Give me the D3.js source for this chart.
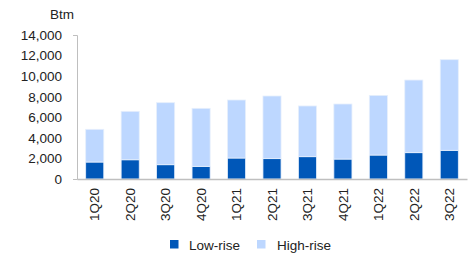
<!DOCTYPE html>
<html><head><meta charset="utf-8">
<script src="https://cdn.jsdelivr.net/npm/d3@7"></script>
<style>body{margin:0;background:#fff}svg{display:block}text{font-family:"Liberation Sans",Arial,sans-serif;fill:#222}</style>
</head><body><svg id="c" width="476" height="255"></svg>
<script>
const categories = ["1Q20","2Q20","3Q20","4Q20","1Q21","2Q21","3Q21","4Q21","1Q22","2Q22","3Q22"];
const lowRise  = [1650,1870,1390,1230,2040,1980,2170,1940,2330,2560,2790];
const totals   = [4830,6580,7420,6870,7680,8070,7100,7290,8130,9620,11600];
const highRise = totals.map((t,i)=>t-lowRise[i]);
const yTicks = [0,2000,4000,6000,8000,10000,12000,14000];
const seriesNames = ["Low-rise","High-rise"];
const colors = ["#0057B8","#BDD7FF"];

const svg = d3.select("#c");
const x = d3.scaleBand().domain(categories).range([77,467]).paddingInner(0.49).paddingOuter(0.245);
const y = d3.scaleLinear().domain([0,14000]).range([179,35]);

const stack = d3.stack().keys([0,1]).value((d,k)=>d[k]);
const rows = categories.map((c,i)=>Object.assign([lowRise[i],highRise[i]],{cat:c}));
const layers = stack(rows);

svg.append("g").selectAll("g").data(layers).join("g")
  .attr("fill",(d,i)=>colors[i])
  .selectAll("rect").data(d=>d).join("rect")
  .attr("x",d=>x(d.data.cat)).attr("width",x.bandwidth())
  .attr("y",d=>y(d[1])).attr("height",d=>y(d[0])-y(d[1]))
  .attr("stroke","#E6EFFC").attr("stroke-width",0.8);

// y axis
const ya = svg.append("g").attr("transform","translate(77,0)")
  .call(d3.axisLeft(y).tickValues(yTicks).tickFormat(d3.format(",")).tickSizeInner(0).tickSizeOuter(4).tickPadding(15));
ya.select(".domain").attr("stroke","#BFBFBF");
ya.selectAll("text").style("font-size","13.5px").attr("fill","#222");

// x axis
const xa = svg.append("g").attr("transform","translate(0,179)")
  .call(d3.axisBottom(x).tickSize(0).tickSizeOuter(0));
xa.select(".domain").attr("stroke","#BFBFBF").attr("stroke-width",1.3);
xa.selectAll("text").style("font-size","13.5px").attr("fill","#222")
  .attr("transform","rotate(-90)").attr("text-anchor","end")
  .attr("x",-9).attr("y",0).attr("dy","0.35em");

svg.append("text").attr("x",50).attr("y",19).style("font-size","13.5px").text("Btm");

// legend
const leg = svg.append("g");
const lx = [170,257];
seriesNames.forEach((n,i)=>{
  leg.append("rect").attr("x",lx[i]).attr("y",240).attr("width",8.5).attr("height",8.5).attr("fill",colors[i]);
  leg.append("text").attr("x",lx[i]+(i?20:19)).attr("y",249.5).style("font-size","13.5px").text(n);
});
</script></body></html>
